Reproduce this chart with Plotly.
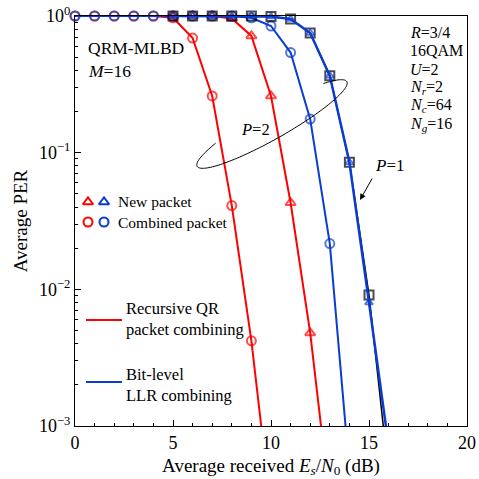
import numpy as np
import plotly.graph_objects as go

# ---------------- data ----------------
# P=2, recursive QR packet combining, combined packet (red circles)
qr_comb_x = list(range(0, 11))
qr_comb_y = [1, 1, 1, 1, 1, 0.97, 0.69, 0.26, 0.041, 0.0042, 0.00024]
# P=2, recursive QR packet combining, new packet (red triangles)
qr_new_x = list(range(5, 14))
qr_new_y = [1, 1, 1, 0.96, 0.715, 0.26, 0.043, 0.0048, 0.00028]
# P=2, bit-level LLR combining, combined packet (blue circles)
llr_comb_x = list(range(0, 15))
llr_comb_y = [1, 1, 1, 1, 1, 1, 1, 1, 1, 0.97, 0.845, 0.54, 0.176, 0.0216, 0.00047]
# P=1 (black squares)
p1_x = list(range(5, 17))
p1_sq_y = [1, 1, 1, 1, 1, 0.99, 0.95, 0.75, 0.365, 0.085, 0.0091, 0.00044]
# P=1 / LLR new packet (blue triangles)
p1_tri_y = [1, 1, 1, 1, 1, 0.99, 0.95, 0.75, 0.365, 0.085, 0.0080, 0.00072]

x_ticks = [0, 5, 10, 15, 20]
y_ticks = [1e-3, 1e-2, 1e-1, 1]
y_ticktext = ["10<sup>\u22123</sup>", "10<sup>\u22122</sup>", "10<sup>\u22121</sup>", "10<sup>0</sup>"]

RED = "#ff0000"
BLUE = "#0a3cd2"
FONT = "Liberation Serif"

L, R, T, B = 75, 12, 16, 53
W = H = 479
PW, PH = W - L - R, H - T - B


def px(X):
    return (X - L) / PW


def py(Y):
    return (H - B - Y) / PH


def sizes(ys, s):
    return [s if y >= 1e-3 else 0 for y in ys]


fig = go.Figure()

fig.add_trace(go.Scatter(x=qr_comb_x, y=qr_comb_y, mode="lines+markers",
                         line=dict(color=RED, width=2),
                         marker=dict(symbol="circle-open", size=sizes(qr_comb_y, 9), color=RED,
                                     line=dict(width=2, color=RED)),
                         cliponaxis=False, showlegend=False))
fig.add_trace(go.Scatter(x=qr_new_x, y=qr_new_y, mode="lines+markers",
                         line=dict(color=RED, width=2),
                         marker=dict(symbol="triangle-up-open", size=sizes(qr_new_y, 9), color=RED,
                                     line=dict(width=2, color=RED)),
                         cliponaxis=False, showlegend=False))
fig.add_trace(go.Scatter(x=llr_comb_x, y=llr_comb_y, mode="lines+markers",
                         line=dict(color=BLUE, width=2),
                         marker=dict(symbol="circle-open", size=sizes(llr_comb_y, 9), color=BLUE,
                                     line=dict(width=2, color=BLUE)),
                         cliponaxis=False, showlegend=False))
fig.add_trace(go.Scatter(x=p1_x, y=p1_sq_y, mode="lines+markers",
                         line=dict(color="black", width=1.5),
                         marker=dict(symbol="square-open", size=sizes(p1_sq_y, 9), color="black",
                                     line=dict(width=2, color="black")),
                         cliponaxis=False, showlegend=False))
fig.add_trace(go.Scatter(x=p1_x, y=p1_tri_y, mode="lines+markers",
                         line=dict(color=BLUE, width=2.5),
                         marker=dict(symbol="triangle-up-open", size=sizes(p1_tri_y, 7), color=BLUE,
                                     line=dict(width=1.8, color=BLUE)),
                         cliponaxis=False, showlegend=False))

# legend symbols on an overlay paper-like axis
leg_sym = [
    (88, 202, "triangle-up-open", RED),
    (104, 202, "triangle-up-open", BLUE),
    (88, 222, "circle-open", RED),
    (104, 222, "circle-open", BLUE),
]
for X, Y, sym, col in leg_sym:
    fig.add_trace(go.Scatter(x=[px(X)], y=[py(Y)], xaxis="x2", yaxis="y2", mode="markers",
                             marker=dict(symbol=sym, size=9, color=col, line=dict(width=2, color=col)),
                             showlegend=False, hoverinfo="skip"))

shapes = []
for Y, col in [(320, RED), (382, BLUE)]:
    shapes.append(dict(type="line", xref="paper", yref="paper", x0=px(86), x1=px(122),
                       y0=py(Y), y1=py(Y), line=dict(color=col, width=2)))

# open ellipse around the P=2 curves
cx, cy, a, b, phi = 272, 124, 86, 15, np.deg2rad(29.5)
th = np.linspace(2.32, 2 * np.pi + 0.72, 120)
ux, uy = np.cos(phi), -np.sin(phi)
vx, vy = -np.sin(phi), -np.cos(phi)
EX = cx + a * np.cos(th) * ux + b * np.sin(th) * vx
EY = cy + a * np.cos(th) * uy + b * np.sin(th) * vy
path = "M " + " L ".join(f"{px(xx):.4f},{py(yy):.4f}" for xx, yy in zip(EX, EY))
shapes.append(dict(type="path", xref="paper", yref="paper", path=path,
                   line=dict(color="black", width=1)))

ann = []


def text(X, Y, s, size=15, anchor="left"):
    ann.append(dict(x=px(X), y=py(Y), xref="paper", yref="paper", text=s, showarrow=False,
                    xanchor=anchor, yanchor="middle", font=dict(family=FONT, size=size, color="black")))


text(116, 202, "New packet", size=15.5)
text(116, 222, "Combined packet", size=15.5)
text(124, 308, "Recursive QR", size=16.5)
text(124, 329, "packet combining", size=16.5)
text(124, 374, "Bit-level", size=16.5)
text(124, 395, "LLR combining", size=16.5)
text(86, 48, "QRM-MLBD", size=17.5)
text(86, 71, "<i>M</i>=16", size=17.5)
right_block = ["<i>R</i>=3/4", "16QAM", "<i>U</i>=2", "<i>N<sub>r</sub></i>=2",
               "<i>N<sub>c</sub></i>=64", "<i>N<sub>g</sub></i>=16"]
for i, s in enumerate(right_block):
    text(408, 32 + i * 18.5, s, size=16)
text(255, 129, "<i>P</i>=2", size=16.5, anchor="center")
text(373, 165, "<i>P</i>=1", size=17)
ann.append(dict(x=px(360), y=py(200), xref="paper", yref="paper", text="", showarrow=True,
                ax=13, ay=-23, axref="pixel", ayref="pixel", arrowhead=2, arrowsize=1.2,
                arrowwidth=1, arrowcolor="black"))

fig.update_layout(
    width=W, height=H, margin=dict(l=L, r=R, t=T, b=B),
    paper_bgcolor="white", plot_bgcolor="white",
    font=dict(family=FONT, size=16, color="black"),
    shapes=shapes, annotations=ann, showlegend=False,
    xaxis=dict(range=[0, 20], tickvals=x_ticks, ticks="inside", ticklen=6, tickcolor="black",
               showline=True, linecolor="black", linewidth=1.2, mirror=True, showgrid=False,
               zeroline=False, tickfont=dict(size=18), automargin=False,
               minor=dict(dtick=1, ticks="inside", ticklen=3, tickcolor="black"),
               title=dict(text="Average received <i>E<sub>s</sub></i>/<i>N</i><sub>0</sub> (dB)",
                          font=dict(size=19), standoff=6)),
    yaxis=dict(type="log", range=[-3, 0], tickvals=y_ticks, ticktext=y_ticktext, ticks="inside",
               ticklen=6, tickcolor="black", showline=True, linecolor="black", linewidth=1.2,
               mirror=True, showgrid=False, zeroline=False, tickfont=dict(size=18), automargin=False,
               minor=dict(tickvals=[m * 10.0 ** e for e in (-3, -2, -1) for m in range(2, 10)],
                          ticks="inside", ticklen=3, tickcolor="black"),
               title=dict(text="Average PER", font=dict(size=19), standoff=6)),
    xaxis2=dict(overlaying="x", range=[0, 1], visible=False, automargin=False),
    yaxis2=dict(overlaying="y", range=[0, 1], visible=False, automargin=False),
)

fig.write_html("out.html", config={"displayModeBar": False},
               post_script="document.body.style.margin='0';document.body.style.overflow='hidden';")
